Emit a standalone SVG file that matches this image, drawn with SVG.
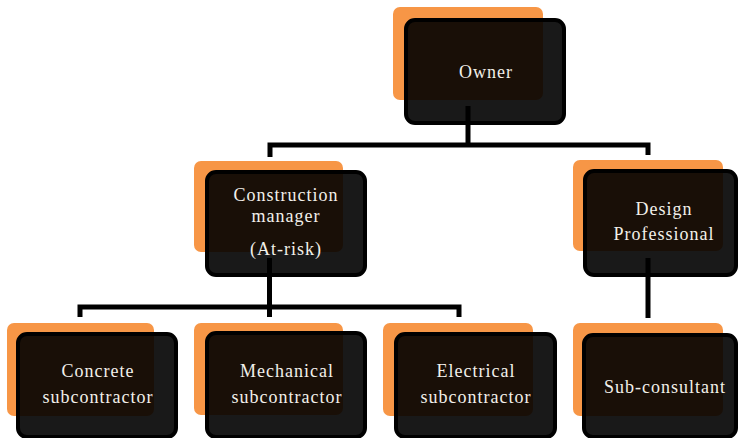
<svg xmlns="http://www.w3.org/2000/svg" width="738" height="438" viewBox="0 0 738 438">
  <style>
    .accent { fill: #F79646; }
    .card { fill: #000; fill-opacity: 0.9; stroke: #000; stroke-width: 4; }
    .label { font-family: "Liberation Serif", "Times New Roman", serif; font-size: 18px; letter-spacing: 1px; fill: #f2f0ea; text-anchor: middle; }
    .wire { fill: none; stroke: #000; stroke-width: 5; stroke-linejoin: miter; }
  </style>
  <rect width="738" height="438" fill="#fff"/>

  <g id="owner">
    <rect class="accent" x="393" y="7" width="150" height="93" rx="7"/>
    <rect class="card" x="406" y="20" width="158" height="103" rx="9"/>
    <text class="label" x="486" y="78">Owner</text>
  </g>

  <g id="construction-manager">
    <rect class="accent" x="194" y="161" width="149" height="91" rx="7"/>
    <rect class="card" x="207" y="172" width="158" height="103" rx="9"/>
    <text class="label" x="286" y="201">Construction</text>
    <text class="label" x="286" y="222">manager</text>
    <text class="label" x="286" y="255">(At-risk)</text>
  </g>

  <g id="design-professional">
    <rect class="accent" x="573" y="160" width="150" height="91" rx="7"/>
    <rect class="card" x="585" y="171" width="151" height="104" rx="9"/>
    <text class="label" x="664" y="215">Design</text>
    <text class="label" x="664" y="240">Professional</text>
  </g>

  <g id="concrete-subcontractor">
    <rect class="accent" x="7" y="323" width="147" height="93" rx="7"/>
    <rect class="card" x="18" y="334" width="158" height="103" rx="9"/>
    <text class="label" x="98" y="377">Concrete</text>
    <text class="label" x="98" y="403">subcontractor</text>
  </g>

  <g id="mechanical-subcontractor">
    <rect class="accent" x="194" y="323" width="149" height="92" rx="7"/>
    <rect class="card" x="207" y="333" width="158" height="104" rx="9"/>
    <text class="label" x="287" y="377">Mechanical</text>
    <text class="label" x="287" y="403">subcontractor</text>
  </g>

  <g id="electrical-subcontractor">
    <rect class="accent" x="383" y="323" width="150" height="93" rx="7"/>
    <rect class="card" x="396" y="334" width="159" height="103" rx="9"/>
    <text class="label" x="476" y="377">Electrical</text>
    <text class="label" x="476" y="403">subcontractor</text>
  </g>

  <g id="sub-consultant">
    <rect class="accent" x="573" y="323" width="150" height="93" rx="7"/>
    <rect class="card" x="584" y="335" width="152" height="102" rx="9"/>
    <text class="label" x="665" y="393">Sub-consultant</text>
  </g>

  <g id="connectors">
    <path class="wire" d="M468,106 V145"/>
    <path class="wire" d="M270,157 V145 H648 V155"/>
    <path class="wire" d="M269.5,258 V317"/>
    <path class="wire" d="M80,317 V307 H459 V317"/>
    <path class="wire" d="M648,258 V318"/>
  </g>
</svg>
